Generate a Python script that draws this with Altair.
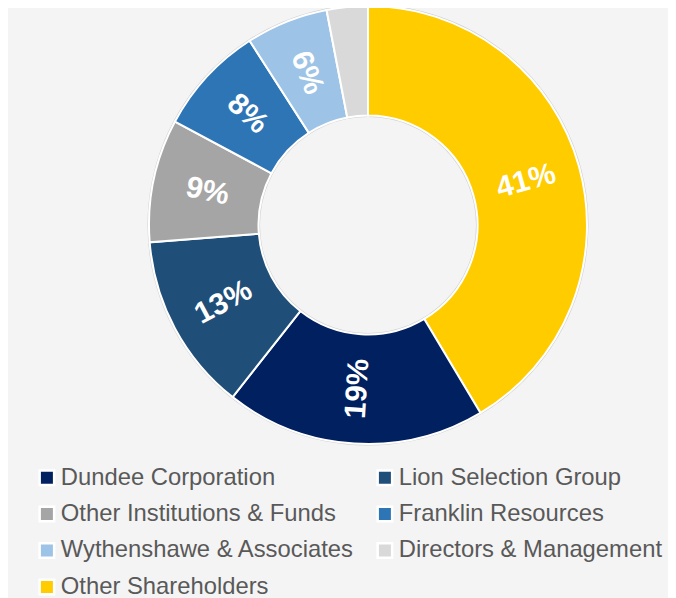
import altair as alt
import pandas as pd

# Slices in clockwise order starting at 12 o'clock
holders = ["Other Shareholders", "Dundee Corporation", "Lion Selection Group",
           "Other Institutions & Funds", "Franklin Resources",
           "Wythenshawe & Associates", "Directors & Management"]
shares = [41, 19, 13, 9, 8, 6, 3]
labels = ["41%", "19%", "13%", "9%", "8%", "6%", ""]

# Legend order (column by column) and colours
legend_order = ["Dundee Corporation", "Other Institutions & Funds",
                "Wythenshawe & Associates", "Other Shareholders",
                "Lion Selection Group", "Franklin Resources",
                "Directors & Management"]
legend_colors = ["#002060", "#A5A5A5", "#9DC3E6", "#FFCC00",
                 "#1F4E79", "#2E75B6", "#D9D9D9"]

df = pd.DataFrame({"holder": holders, "share": shares, "label": labels,
                   "slot": list(range(len(holders)))})

CX, CY = 360, 217
FONT = "Liberation Sans"

color = alt.Color("holder:N",
                  scale=alt.Scale(domain=legend_order, range=legend_colors),
                  legend=alt.Legend(orient="none", legendX=27, legendY=457.5,
                                    columns=2, title=None, symbolType="square",
                                    symbolSize=210, symbolStrokeColor="white",
                                    symbolStrokeWidth=2.5, labelFontSize=23.8,
                                    labelFont=FONT, labelColor="#595959",
                                    labelLimit=400, labelOffset=2,
                                    columnPadding=17, rowPadding=10.5,
                                    padding=0))

outline = alt.Chart(pd.DataFrame({"k": [1]})).mark_arc(
    theta=0, theta2=6.2832, radius=220.5, radius2=108, color="#cfcfcf"
).encode(x=alt.value(CX), y=alt.value(CY))

arcs = alt.Chart(df).mark_arc(radius=219, radius2=109.5, stroke="white",
                              strokeWidth=2).encode(
    theta=alt.Theta("share:Q", stack=True),
    color=color,
    order=alt.Order("slot:Q"),
    x=alt.value(CX), y=alt.value(CY),
)

texts = alt.Chart(df).transform_window(
    cum="sum(share)", sort=[alt.SortField("slot")]
).transform_joinaggregate(
    total="sum(share)"
).transform_calculate(
    mid="(datum.cum - datum.share/2) / datum.total * 360"
).transform_calculate(
    a0="datum.mid - 90"
).transform_calculate(
    ang="((datum.a0 > 90 ? datum.a0 - 180 : datum.a0) + 360) % 360"
).mark_text(radius=164, fontSize=30, fontWeight="bold", color="white",
            font=FONT, align="center", baseline="middle").encode(
    theta=alt.Theta("share:Q", stack=True),
    detail="holder:N",
    order=alt.Order("slot:Q"),
    text="label:N",
    angle=alt.Angle("ang:Q", scale=None),
    x=alt.value(CX), y=alt.value(CY),
)

chart = alt.layer(outline, arcs, texts).properties(
    width=660, height=590, padding=0, autosize="none",
    background="#f4f4f4"
).configure_view(stroke=None)

chart.save("out.html", embed_options={"renderer": "svg", "actions": False})
